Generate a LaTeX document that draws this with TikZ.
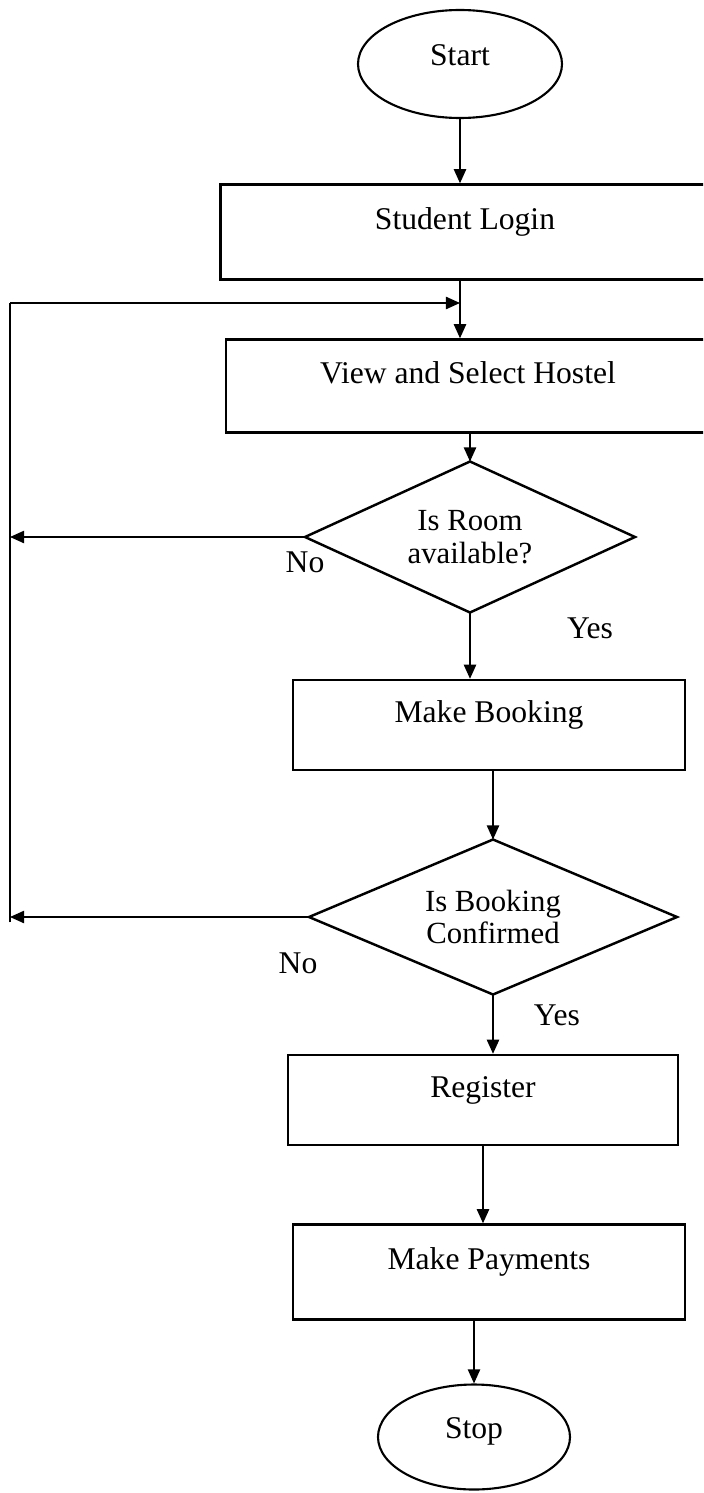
\documentclass[tikz,border=0pt]{standalone}
\usepackage{fontspec}
\setmainfont{Liberation Serif}
\usetikzlibrary{shapes.geometric,arrows.meta,positioning}
\newcommand*{\loopX}{10}
\newcommand*{\loopY}{303}

\tikzset{
  box/.style={draw,line width=1.4pt,rectangle,inner sep=0pt,
    font=\fontsize{18}{20}\selectfont,text height=12.5pt,text depth=15pt},
  term/.style={draw,line width=1.2pt,ellipse,inner sep=0pt,
    font=\fontsize{18}{20}\selectfont,text height=12.5pt,text depth=11pt},
  decision/.style={draw,line width=1.4pt,diamond,aspect=2.2,inner sep=0pt,outer sep=0pt,
    align=center,font=\fontsize{17.5}{18.5}\selectfont},
  flow/.style={line width=0.8pt,-{Triangle[length=8pt,width=7pt]}},
  lbl/.style={font=\fontsize{18}{20}\selectfont}
}

\begin{document}
\begin{tikzpicture}[x=0.02cm,y=-0.02cm]
    \clip (0,0) rectangle (703,1493);

    \node[term,minimum width=204*0.02cm,minimum height=108*0.02cm] (start) at (460,64) {Start};
    \node[box,minimum width=489*0.02cm,minimum height=95*0.02cm] (login) at (465,232) {Student Login};
    \node[box,minimum width=484*0.02cm,minimum height=93*0.02cm] (view) at (468,386) {View and Select Hostel};
    \node[decision,minimum width=330*0.02cm,minimum height=151*0.02cm] (room) at (470,537) {Is Room\\available?};
    \node[box,minimum width=392*0.02cm,minimum height=90*0.02cm] (book) at (489,725) {Make Booking};
    \node[decision,minimum width=368*0.02cm,minimum height=155*0.02cm] (confirm) at (493,917) {Is Booking\\Confirmed};
    \node[box,minimum width=390*0.02cm,minimum height=90*0.02cm] (reg) at (483,1100) {Register};
    \node[box,minimum width=392*0.02cm,minimum height=95*0.02cm] (pay) at (489,1272) {Make Payments};
    \node[term,minimum width=192*0.02cm,minimum height=105*0.02cm] (stop) at (474,1437) {Stop};

    % branch labels
    \node[lbl] (no1) at (305,562) {No};
    \node[lbl] (yes1) at (590,628) {Yes};
    \node[lbl] (no2) at (298,963) {No};
    \node[lbl] (yes2) at (557,1015) {Yes};

    % main flow
    \draw[flow] (start.south) -- (start.south |- login.north);
    \draw[flow] (login.south -| start.south) -- (start.south |- view.north);
    \draw[flow] (view.south -| room.north) -- (room.north);
    \draw[flow] (room.south) -- (room.south |- book.north);
    \draw[flow] (book.south -| confirm.north) -- (confirm.north);
    \draw[flow] (confirm.south) -- (confirm.south |- reg.north);
    \draw[flow] (reg.south) -- (reg.south |- pay.north);
    \draw[flow] (pay.south -| stop.north) -- (stop.north);

    % return path
    \coordinate (back) at (\loopX,\loopY);
    \coordinate (merge) at (start.south |- back);
    \draw[flow] (room.west) -- (room.west -| back);
    \draw[flow] (confirm.west) -- (confirm.west -| back);
    \draw[line width=0.8pt] ([yshift=-3pt]back |- confirm.west) -- (back);
    \draw[flow] (back) -- (merge);
  \end{tikzpicture}
\end{document}
